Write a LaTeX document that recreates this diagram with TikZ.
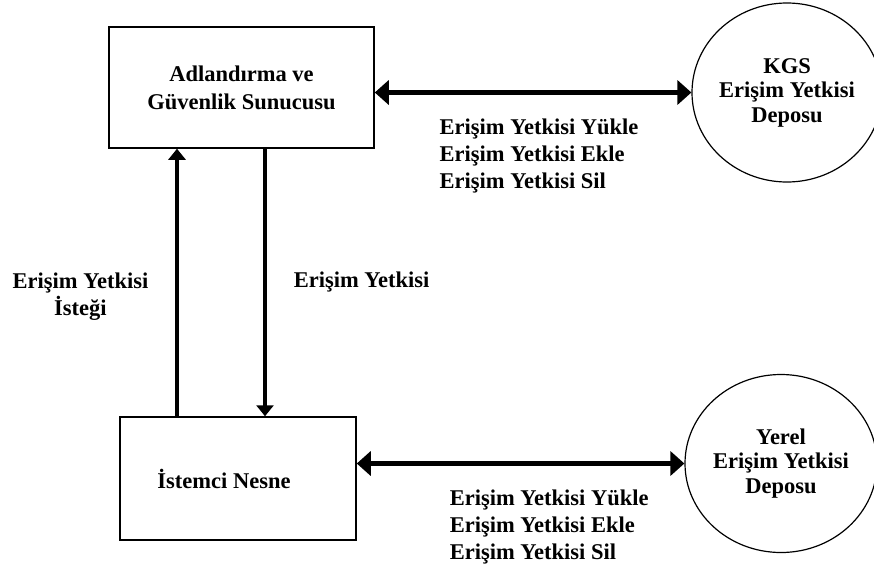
\documentclass[tikz,border=0pt]{standalone}
\usepackage{fontspec}
\setmainfont{Liberation Serif}
\usetikzlibrary{arrows.meta,positioning,shapes.geometric}

\begin{document}
\begin{tikzpicture}[node distance=391pt,
    >={Triangle[length=11pt,width=17pt]},
    txt/.style={font=\fontsize{22.5}{27}\selectfont\bfseries, align=center, inner sep=0pt},
    proc/.style={draw, line width=1.5pt, minimum height=121pt, txt, font=\fontsize{22.5}{28}\selectfont\bfseries},
    store/.style={ellipse, draw, line width=1.2pt, minimum width=190pt, minimum height=179pt, txt, inner sep=-10pt, font=\fontsize{22.5}{24.5}\selectfont\bfseries},
    flow/.style={line width=3.5pt, ->},
    sync/.style={line width=4.5pt, {Triangle[length=14pt,width=24pt]}-{Triangle[length=14pt,width=24pt]}}]
  \useasboundingbox (0,0) rectangle (874pt,-565pt);

  \node[proc, minimum width=265pt]  (server) at (241.5pt,-87.5pt) {Adlandırma ve\\Güvenlik Sunucusu};
  \node[proc, minimum width=236pt, minimum height=123pt] (client) [below of=server, xshift=-3.5pt] {İstemci Nesne\hspace*{28pt}};
  \node[store] (kgs)   [right of=server, node distance=545.5pt, yshift=-5pt] {KGS\\Erişim Yetkisi\\Deposu};
  \node[store, minimum width=192pt, minimum height=178pt] (local) [right of=client, node distance=543pt, yshift=15pt] {Yerel\\Erişim Yetkisi\\Deposu};

  % istemci <-> sunucu
  \draw[flow] ([xshift=-61pt]client.north) coordinate (req) -- (req |- server.south)
      node[pos=0.446, left=27pt, txt] {Erişim Yetkisi\\İsteği};
  \draw[flow] ([xshift=23.5pt]server.south) coordinate (grant) -- (grant |- client.north)
      node[midway, right=27pt, txt] {Erişim Yetkisi};

  % depolar
  \draw[sync] (server.east |- kgs.west) -- (kgs.west)
      node[pos=0.198, anchor=north west, yshift=-24pt, txt, align=left]
      {Erişim Yetkisi Yükle\\Erişim Yetkisi Ekle\\Erişim Yetkisi Sil};
  \draw[sync] (client.east |- local.west) -- (local.west)
      node[pos=0.277, anchor=north west, yshift=-24pt, txt, align=left]
      {Erişim Yetkisi Yükle\\Erişim Yetkisi Ekle\\Erişim Yetkisi Sil};
\end{tikzpicture}
\end{document}
